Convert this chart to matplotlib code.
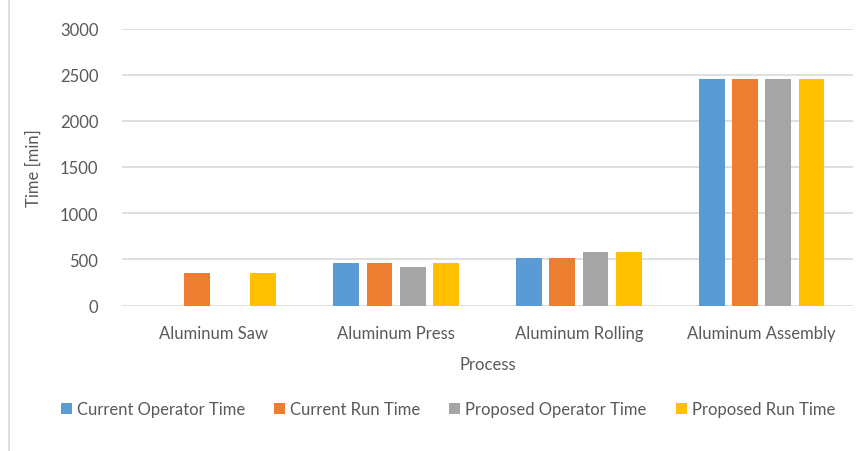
import matplotlib
matplotlib.use("Agg")
import matplotlib.pyplot as plt
import numpy as np
from matplotlib.lines import Line2D

categories = ["Aluminum Saw", "Aluminum Press", "Aluminum Rolling", "Aluminum Assembly"]
series_names = ["Current Operator Time", "Current Run Time", "Proposed Operator Time", "Proposed Run Time"]
current_operator = [0, 465, 510, 2450]
current_run = [355, 465, 510, 2450]
proposed_operator = [0, 420, 575, 2450]
proposed_run = [355, 465, 575, 2450]
yticks = [0, 500, 1000, 1500, 2000, 2500, 3000]

colors = ["#5B9BD5", "#ED7D31", "#A5A5A5", "#FFC000"]
txt = "#595959"
plt.rcParams['font.family'] = ['Lato', 'DejaVu Sans']
fs = 12

fig = plt.figure(figsize=(8.68, 4.52), dpi=100)
ax = fig.add_axes([122/868, 1-306.5/452, (853-122)/868, (306.5-29.5)/452])

x = np.arange(len(categories))
w = 0.142
step = 0.182
data = [current_operator, current_run, proposed_operator, proposed_run]
for i, (vals, name, c) in enumerate(zip(data, series_names, colors)):
    ax.bar(x + (i - 1.5) * step, vals, width=w, color=c, label=name, zorder=3)

ax.set_xlim(-0.5, len(categories) - 0.5)
ax.set_ylim(0, 3000)
ax.set_yticks(yticks)
ax.set_yticklabels([str(v) for v in yticks])
ax.set_xticks(x)
ax.set_xticklabels(categories)
ax.grid(axis='y', color='#D9D9D9', linewidth=1.2, zorder=0)
for s in ax.spines.values():
    s.set_visible(False)
ax.tick_params(axis='both', length=0, colors=txt, labelsize=fs)
ax.tick_params(axis='y', pad=17)
ax.tick_params(axis='x', pad=14)
ax.set_ylabel("Time [min]", color=txt, fontsize=fs, labelpad=13)
ax.set_xlabel("Process", color=txt, fontsize=fs, labelpad=11)

handles, labels = ax.get_legend_handles_labels()
leg = fig.legend(handles, labels, loc='center', bbox_to_anchor=(448/868, 1-410/452), ncol=4,
                 frameon=False, fontsize=fs, handlelength=0.65, handleheight=0.65,
                 handletextpad=0.3, columnspacing=1.75, labelcolor=txt)

fig.add_artist(Line2D([8.5/868, 8.5/868], [0, 1], color='#D9D9D9', linewidth=1.2, transform=fig.transFigure))

fig.savefig("out.png", dpi=100)
